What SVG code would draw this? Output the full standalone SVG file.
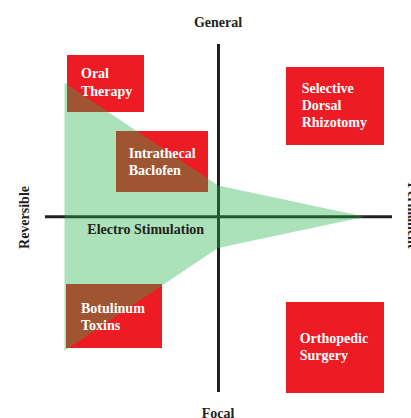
<svg xmlns="http://www.w3.org/2000/svg" width="411" height="418" viewBox="0 0 411 418">
<style>
  .axis{stroke:#231F20;stroke-width:3;fill:none}
  .box{fill:#ED1C24}
  .lbl{font-family:"Liberation Serif","Times New Roman",serif;font-weight:bold;font-size:14px;fill:#FFFFFF}
  .ax{font-family:"Liberation Serif","Times New Roman",serif;font-weight:bold;font-size:14px;fill:#231F20}
  .zone{fill:#22B34A;fill-opacity:0.38}
</style>
<rect width="411" height="418" fill="#FFFFFF"/>
<g id="connectors">
  <line class="axis" x1="218.5" y1="44" x2="218.5" y2="392"/>
  <line class="axis" x1="45" y1="216.7" x2="392" y2="216.7"/>
</g>
<g id="oral-therapy"><rect class="box" x="67" y="55" width="77" height="57"/></g>
<g id="selective-dorsal-rhizotomy"><rect class="box" x="286" y="67" width="98" height="78"/></g>
<g id="intrathecal-baclofen"><rect class="box" x="116" y="131" width="92" height="61"/></g>
<g id="botulinum-toxins"><rect class="box" x="66" y="284" width="96" height="64"/></g>
<g id="orthopedic-surgery"><rect class="box" x="286" y="302" width="98" height="91"/></g>
<g id="electro-stimulation">
  <polygon class="zone" points="64.5,82.7 218,185.5 365,216.7 218,248 64.5,350.8"/>
  <text class="ax" x="87.3" y="234.3">Electro Stimulation</text>
</g>
<g id="labels">
  <text class="lbl" x="81" y="78"><tspan x="81">Oral</tspan><tspan x="81" y="95.5">Therapy</tspan></text>
  <text class="lbl" x="301.7" y="92.5"><tspan x="301.7">Selective</tspan><tspan x="301.7" y="110">Dorsal</tspan><tspan x="301.7" y="127">Rhizotomy</tspan></text>
  <text class="lbl" x="128.7" y="157.5"><tspan x="128.7">Intrathecal</tspan><tspan x="128.7" y="174.5">Baclofen</tspan></text>
  <text class="lbl" x="81" y="312.5"><tspan x="81">Botulinum</tspan><tspan x="81" y="329.5">Toxins</tspan></text>
  <text class="lbl" x="299.7" y="342.5"><tspan x="299.7">Orthopedic</tspan><tspan x="299.7" y="359.5">Surgery</tspan></text>
</g>
<g id="axis-labels">
  <text class="ax" x="218" y="27" text-anchor="middle">General</text>
  <text class="ax" x="218" y="417.5" text-anchor="middle">Focal</text>
  <text class="ax" text-anchor="middle" transform="translate(29,217.5) rotate(-90)">Reversible</text>
  <text class="ax" text-anchor="middle" transform="translate(408.3,215.5) rotate(90)">Permanent</text>
</g>
</svg>
